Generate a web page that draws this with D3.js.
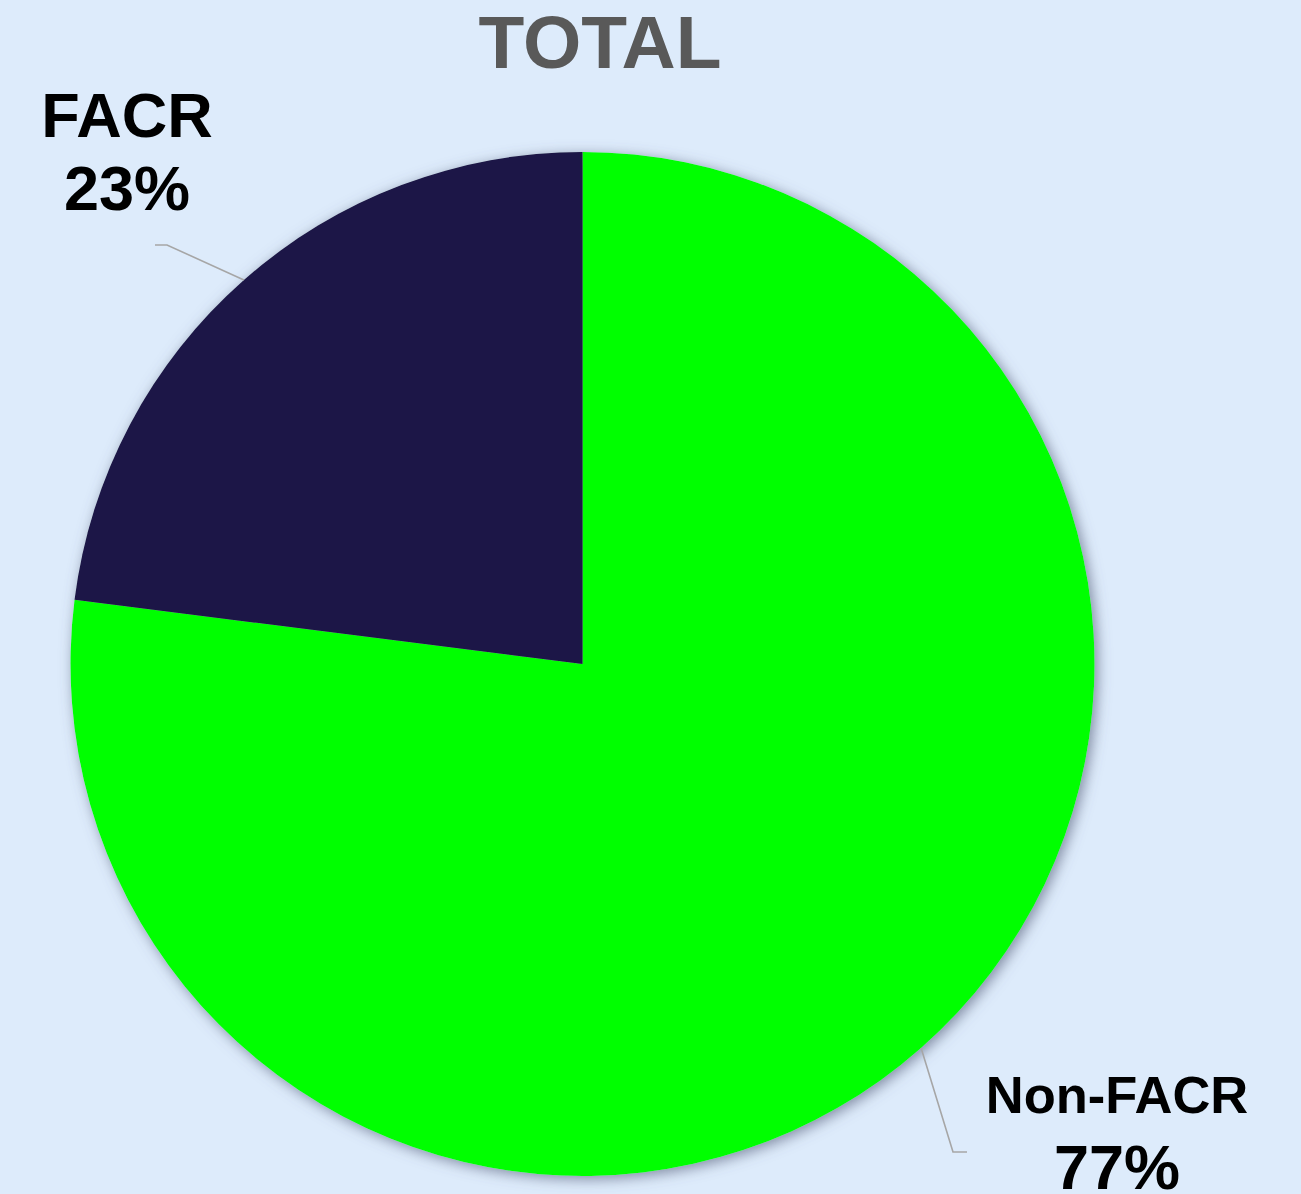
<!DOCTYPE html>
<html>
<head>
<meta charset="utf-8">
<script src="https://cdn.jsdelivr.net/npm/d3@7"></script>
<style>
  html, body { margin: 0; padding: 0; background: #DDEBFB; }
  svg { display: block; }
</style>
</head>
<body>
<svg id="chart" width="1301" height="1194"></svg>
<script>
const title = "TOTAL";
const categories = ["Non-FACR", "FACR"];
const values = [77, 23];
const colors = ["#00FF00", "#1C1646"];

const W = 1301, H = 1194;
const cx = 582.5, cy = 664, R = 512;

const svg = d3.select("#chart");
svg.append("rect").attr("width", W).attr("height", H).attr("fill", "#DDEBFB");

const defs = svg.append("defs");
const f = defs.append("filter").attr("id", "shadow")
  .attr("x", "-10%").attr("y", "-10%").attr("width", "120%").attr("height", "120%");
f.append("feDropShadow").attr("dx", 3).attr("dy", 3).attr("stdDeviation", 7)
  .attr("flood-color", "#56607a").attr("flood-opacity", 0.7);

svg.append("text")
  .attr("x", 600).attr("y", 68)
  .attr("text-anchor", "middle")
  .attr("font-family", "Liberation Sans, Arial, sans-serif")
  .attr("font-weight", "bold")
  .attr("font-size", 75)
  .attr("fill", "#595959")
  .text(title);

const data = categories.map((c, i) => ({ name: c, value: values[i], color: colors[i] }));
const pie = d3.pie().value(d => d.value).sort(null);
const arcs = pie(data);
const arc = d3.arc().innerRadius(0).outerRadius(R);

const g = svg.append("g").attr("transform", `translate(${cx},${cy})`);
g.append("g").attr("filter", "url(#shadow)")
  .selectAll("path").data(arcs).join("path")
  .attr("d", arc)
  .attr("fill", d => d.data.color);

// Label layout (positions relative to center)
const labelCfg = {
  "FACR":     { x: 127 - cx, lines: [{ y: 137 - cy, size: 63 }, { y: 210 - cy, size: 63 }], elbow: [167 - cx, 245 - cy], end: [155 - cx, 245 - cy] },
  "Non-FACR": { x: 1117 - cx, lines: [{ y: 1113 - cy, size: 52.5 }, { y: 1189 - cy, size: 63 }], elbow: [953 - cx, 1152 - cy], end: [967 - cx, 1152 - cy] }
};

arcs.forEach(a => {
  const cfg = labelCfg[a.data.name];
  const mid = (a.startAngle + a.endAngle) / 2;
  const p0 = [R * Math.sin(mid), -R * Math.cos(mid)];
  g.append("polyline")
    .attr("points", [p0, cfg.elbow, cfg.end].map(p => p.join(",")).join(" "))
    .attr("fill", "none")
    .attr("stroke", "#A6A6A6")
    .attr("stroke-width", 1.6);

  const total = d3.sum(values);
  const texts = [a.data.name, Math.round(a.data.value / total * 100) + "%"];
  texts.forEach((t, i) => {
    g.append("text")
      .attr("x", cfg.x).attr("y", cfg.lines[i].y)
      .attr("text-anchor", "middle")
      .attr("font-family", "Liberation Sans, Arial, sans-serif")
      .attr("font-weight", "bold")
      .attr("font-size", cfg.lines[i].size)
      .attr("fill", "#000000")
      .text(t);
  });
});
</script>
</body>
</html>
